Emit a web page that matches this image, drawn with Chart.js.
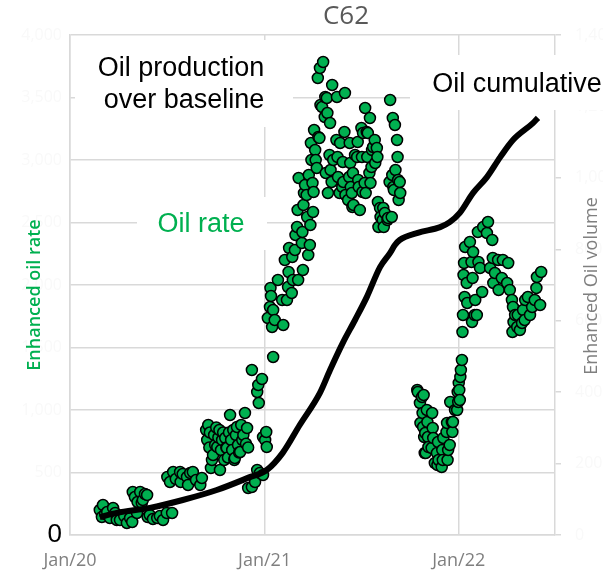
<!DOCTYPE html>
<html>
<head>
<meta charset="utf-8">
<script src="https://cdn.jsdelivr.net/npm/chart.js@4"></script>
<style>
  html, body { margin: 0; background: #fff; }
  #wrap { width: 603px; height: 577px; }
</style>
</head>
<body>
<div id="wrap"><canvas id="c62"></canvas></div>
<script>
// days counted from 1 Jan 2020
const tickDays = [0, 366, 731];
const tickLabels = ['Jan/20', 'Jan/21', 'Jan/22'];

// enhanced oil rate (left axis)
const rateDays = [
  56, 60, 62, 66, 70, 75, 81, 85, 88, 94, 102, 107, 113, 117, 118, 122, 126, 127, 132, 135,
  137, 141, 145, 146, 150, 156, 164, 169, 175, 182, 183, 188, 192, 194, 199, 207, 208, 212, 220, 222,
  226, 231, 237, 245, 248,
  256, 258, 260, 262, 263, 265, 267, 269, 271, 273, 275, 277, 279, 281, 282, 284, 286, 288, 290, 292,
  294, 295, 297, 299, 301, 303, 305, 307, 309, 310, 312, 314, 316, 318, 320, 322, 324, 326, 329, 331,
  333, 335,
  335, 342, 342, 348, 352, 352, 354, 355, 357, 361, 363, 363, 367, 369, 370,
  372, 376, 377, 378, 380, 382, 382, 385, 391, 399, 401, 404, 408, 410, 411, 412, 417, 418, 419, 423,
  424, 427, 428, 429, 430, 436, 437, 438, 439, 440, 442, 445, 446, 448, 449, 451, 452, 453, 454, 456,
  457, 458, 459, 461, 462, 464, 466, 467, 469, 470, 471, 474, 476, 479, 480, 481, 483, 484, 485, 488,
  489, 490, 492, 493, 495, 501, 502, 503, 504, 507, 508, 512, 513, 514, 516, 517, 518, 523, 525, 526,
  527, 528, 530, 531, 532, 533, 536, 540, 541, 542, 543, 545, 548, 549, 550, 551, 554, 555, 556, 558,
  559, 560, 563, 564, 565, 567, 568, 570, 573, 574, 577, 578, 579, 580, 583, 584, 588, 589, 590, 592,
  597, 598, 601, 602, 605, 606, 607, 608, 609, 611, 612, 615, 616, 617, 618, 620, 621,
  653, 654, 658, 659, 662, 663, 664, 665, 666, 667, 668, 669, 671, 672, 673, 674, 680, 681, 682, 683,
  686, 690, 691, 692, 693, 699, 700, 701, 702, 708, 709, 710, 711, 714, 715, 718, 719, 720, 724, 728,
  729, 730, 731, 732, 733, 734, 735, 737, 738, 739,
  740, 741, 742, 743, 746, 747, 752, 755, 756, 757, 758, 761, 762, 765, 767, 768, 771, 775, 777, 784,
  786, 790, 794, 795, 796, 799, 805, 806, 812, 814, 822, 824, 827, 831, 832, 833, 834, 837, 841, 842,
  846, 850, 852, 855, 856, 861, 865, 869, 874, 877, 878, 884, 886
];
const rateValues = [
  200, 144, 240, 168, 184, 136, 216, 176, 120, 120, 152, 96, 136, 104, 344, 304, 176, 264, 344, 256,
  280, 328, 320, 144, 160, 128, 136, 152, 120, 176, 464, 424, 176, 504, 448, 504, 424, 488, 464, 400,
  496, 504, 440, 400, 456,
  840, 760, 880, 700, 820, 536, 600, 640, 800, 720, 860, 704, 780, 840, 520, 680, 760, 820, 600, 776,
  700, 696, 620, 820, 960, 760, 680, 840, 600, 616, 800, 864, 720, 660, 664, 880, 760, 800, 976, 730,
  856, 700,
  376, 384, 1320, 424, 520, 1144, 1200, 1056, 496, 1248, 480, 784, 760, 824, 704,
  1736, 1824, 1976, 1912, 1664, 1800, 1424, 1720, 2040, 1880, 1680, 2200, 1880, 1984, 2104, 2296, 1936, 2224, 2040, 2280,
  2400, 2464, 2600, 2040, 2856, 2336, 2424, 2120, 2640, 2736, 2800, 2720, 2544, 2240, 2880, 2320, 2480, 3136, 3000, 2816,
  2584, 2744, 3240, 3080, 3000, 2936, 3656, 3184, 3176, 3736, 3440, 3424, 3784, 3344, 3504, 2896, 3496, 3376, 2736, 3040,
  3296, 2920, 2824, 3600, 3000, 3160, 3504, 3024, 2864, 2736, 3136, 2784, 2984, 2824, 3224, 3536, 2720, 2680, 2864, 3136,
  2976, 2784, 2736, 2624, 2896, 2640, 3040, 3024, 3144, 2840, 2784, 2600, 3256, 3024, 2744, 3216, 2816, 3416, 2736, 3224,
  3024, 3216, 2896, 3336, 2816, 2944, 3080, 3104, 3160, 2976, 3096, 3024, 2664, 2464, 2616, 2544, 2520, 2616, 2464, 2576,
  2520, 2536, 2824, 3480, 2544, 2880, 3336, 2784, 2760, 3280, 2920, 3160, 3024, 2840, 2680, 2824, 2736,
  1160, 1144, 1056, 896, 1104, 976, 864, 1120, 784, 656, 816, 656, 1000, 904, 784, 704, 696, 976, 856, 776,
  576, 656, 560, 744, 600, 544, 680, 600, 776, 824, 896, 600, 680, 720, 1064, 904, 824, 904, 1000, 1000,
  1144, 1064, 1216, 1160, 1080, 1264, 1320, 1400, 1624, 1760,
  2080, 2176, 1904, 2304, 2016, 1856, 2344, 2184, 1704, 2056, 2264, 1760, 1880, 1760, 2424, 2184, 2136, 1944, 2464, 2416,
  2504, 2136, 2360, 2216, 2016, 2096, 2200, 1960, 2056, 2200, 2016, 2176, 1960, 1880, 1624, 1824, 1704, 1760, 1664, 1760,
  1640, 1696, 1800, 1720, 1880, 1904, 1760, 1824, 1880, 1976, 2064, 1840, 2104
];

// enhanced oil volume, cumulative (right axis)
const cumDays = [56, 88, 150, 212, 276, 338, 370, 400, 432, 470, 489, 513, 536, 558,
  583, 602, 611, 620, 654, 696, 714, 733, 758, 784, 809, 833, 871, 880];
const cumValues = [50, 62, 76, 98, 126, 162, 182, 230, 308, 398, 462, 538, 602, 666,
  750, 790, 812, 826, 846, 862, 876, 902, 958, 1002, 1058, 1106, 1154, 1168];

const GREEN = '#00b050';
const GRID = '#d9d9d9';
const FAINT = '#f9f9f9';

function vText(ctx, text, x, y, font, color) {
  ctx.save();
  ctx.translate(x, y);
  ctx.rotate(-Math.PI / 2);
  ctx.font = font;
  ctx.fillStyle = color;
  ctx.textAlign = 'center';
  ctx.textBaseline = 'middle';
  ctx.fillText(text, 0, 0);
  ctx.restore();
}

const labelsPlugin = {
  id: 'labels',
  afterDraw(chart) {
    const ctx = chart.ctx;
    ctx.save();
    // white boxes behind the callouts
    ctx.fillStyle = '#fff';
    ctx.fillRect(75, 40, 218, 87);
    ctx.fillRect(137, 197, 130, 53);
    ctx.fillRect(410, 55, 193, 55);

    ctx.textAlign = 'center';
    ctx.textBaseline = 'alphabetic';
    ctx.font = '27px "Liberation Sans", Arial, sans-serif';
    ctx.fillStyle = '#000';
    ctx.fillText('Oil production', 181, 76);
    ctx.fillText('over baseline', 184, 108);
    ctx.fillText('Oil cumulative', 517, 92);
    ctx.fillStyle = GREEN;
    ctx.fillText('Oil rate', 201, 232);

    // chart title
    ctx.fillStyle = '#595959';
    ctx.font = '26px "Open Sans", sans-serif';
    ctx.textBaseline = 'middle';
    ctx.fillText('C62', 346, 17);
    ctx.restore();

    // axis titles, both reading bottom to top
    vText(ctx, 'Enhanced oil rate', 35, 295, '600 18px "Open Sans", sans-serif', GREEN);
    vText(ctx, 'Enhanced Oil volume', 592, 286, '18px "Open Sans", sans-serif', '#7f7f7f');
  }
};

new Chart(document.getElementById('c62'), {
  data: {
    datasets: [
      {
        type: 'line',
        label: 'Oil cumulative',
        data: cumDays.map((d, i) => ({ x: d, y: cumValues[i] })),
        yAxisID: 'y1',
        borderColor: '#000',
        borderWidth: 6,
        pointRadius: 0,
        cubicInterpolationMode: 'monotone',
        order: 0
      },
      {
        type: 'scatter',
        label: 'Oil rate',
        data: rateDays.map((d, i) => ({ x: d, y: rateValues[i] })),
        yAxisID: 'y',
        backgroundColor: GREEN,
        borderColor: '#000',
        borderWidth: 1.5,
        pointRadius: 5.5,
        order: 1
      }
    ]
  },
  options: {
    responsive: true,
    maintainAspectRatio: false,
    animation: false,
    devicePixelRatio: 1,
    layout: { padding: { top: 35, left: 0, right: 0, bottom: 0 } },
    plugins: {
      legend: { display: false },
      tooltip: { enabled: false }
    },
    scales: {
      x: {
        type: 'linear',
        min: 0,
        max: 912,
        afterBuildTicks: s => { s.ticks = tickDays.map(v => ({ value: v })); },
        afterFit: s => { s.height = 42; },
        ticks: {
          callback: (v, i) => tickLabels[i],
          color: '#7f7f7f',
          font: { family: 'Open Sans', size: 18 },
          padding: 15,
          maxRotation: 0
        },
        grid: { color: GRID, lineWidth: 1.5, drawTicks: false },
        border: { color: GRID, width: 1.5 }
      },
      y: {
        position: 'left',
        min: 0,
        max: 4000,
        afterFit: s => { s.width = 70; },
        ticks: {
          stepSize: 500,
          padding: 8,
          color: c => (c.tick && c.tick.value === 0 ? '#000' : FAINT),
          font: c => (c.tick && c.tick.value === 0
            ? { family: 'Liberation Sans', size: 26 }
            : { family: 'Open Sans', size: 16 }),
          callback: v => v.toLocaleString('en-US')
        },
        grid: { color: GRID, lineWidth: 1.5, drawTicks: false },
        border: { color: GRID, width: 1.5 }
      },
      y1: {
        position: 'right',
        min: 0,
        max: 1400,
        afterFit: s => { s.width = 48; },
        ticks: {
          stepSize: 200,
          padding: 14,
          color: FAINT,
          font: { family: 'Open Sans', size: 16 },
          callback: v => v.toLocaleString('en-US')
        },
        grid: { drawOnChartArea: false, color: GRID, lineWidth: 1.5, tickLength: 6 },
        border: { color: GRID, width: 1.5 }
      }
    }
  },
  plugins: [labelsPlugin]
});
</script>
</body>
</html>
